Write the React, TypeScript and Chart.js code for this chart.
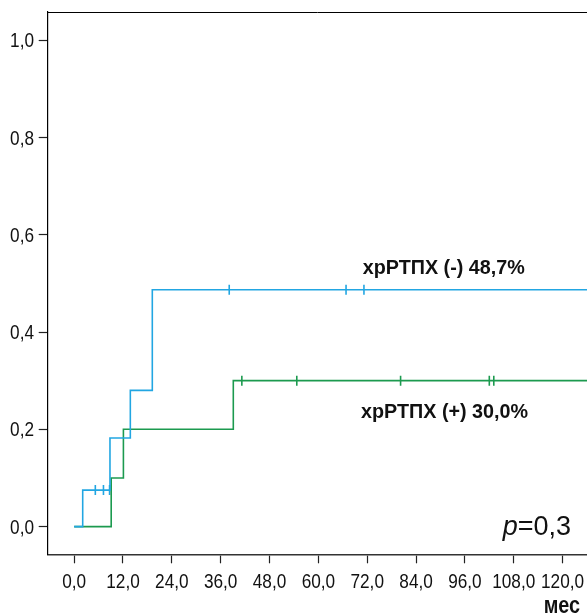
import React, { useEffect, useRef } from "react";
import { Chart, registerables } from "chart.js";

Chart.register(...registerables);

// Cumulative incidence steps (months, fraction)
const blueTimes = [0, 2.1, 8.8, 13.8, 19.2, 130];
const blueValues = [0, 0.075, 0.182, 0.28, 0.487, 0.487];
const blueCensorTimes = [5.2, 7.2, 8.7, 38.1, 66.8, 71.2];
const blueCensorValues = [0.075, 0.075, 0.075, 0.487, 0.487, 0.487];

const greenTimes = [0, 9.1, 12.1, 39.1, 130];
const greenValues = [0, 0.1, 0.2, 0.3, 0.3];
const greenCensorTimes = [41.2, 54.7, 80.2, 102.0, 103.1];
const greenCensorValues = [0.3, 0.3, 0.3, 0.3, 0.3];

const xTicks = [0, 12, 24, 36, 48, 60, 72, 84, 96, 108, 120];
const yTicks = [0, 0.2, 0.4, 0.6, 0.8, 1.0];

const blueLabel = "хрРТПХ (-) 48,7%";
const greenLabel = "хрРТПХ (+) 30,0%";
const pLabelItalic = "p";
const pLabelRest = "=0,3";
const xUnit = "мес";

const BLUE = "#22a6e2";
const GREEN = "#1c9a4f";
const SANS = "'Liberation Sans', Arial, sans-serif";
const TICK_SIZE = 20;
const TICK_SCALE = 0.86;

const fmt = (v: number) => v.toFixed(1).replace(".", ",");

function drawScaledText(ctx: any, text: string, cx: number, cy: number, font: string, sx: number, align: string, baseline = "middle") {
  ctx.save();
  ctx.font = font;
  ctx.translate(cx, cy);
  ctx.scale(sx, 1);
  ctx.textAlign = align;
  ctx.textBaseline = baseline;
  ctx.fillText(text, 0, 0);
  ctx.restore();
}

const annotations = {
  id: "annotations",
  afterDraw(chart: any) {
    const { ctx, chartArea, scales } = chart;
    const x = scales.x;
    const y = scales.y;
    ctx.save();
    // top frame
    ctx.strokeStyle = "#000";
    ctx.lineWidth = 1;
    ctx.beginPath();
    ctx.moveTo(chartArea.left, chartArea.top + 0.5);
    ctx.lineTo(chartArea.right, chartArea.top + 0.5);
    ctx.stroke();

    ctx.fillStyle = "#111";
    // tick labels (condensed look)
    const tickFont = `${TICK_SIZE}px ${SANS}`;
    x.ticks.forEach((t: any, i: number) => {
      drawScaledText(ctx, fmt(t.value), x.getPixelForTick(i), 588, tickFont, TICK_SCALE, "center", "alphabetic");
    });
    const cap = TICK_SIZE * 0.716;
    y.ticks.forEach((t: any, i: number) => {
      drawScaledText(ctx, fmt(t.value), 34, y.getPixelForTick(i) + cap / 2, tickFont, TICK_SCALE, "right", "alphabetic");
    });

    drawScaledText(ctx, blueLabel, x.getPixelForValue(90.8), y.getPixelForValue(0.532), `bold 21px ${SANS}`, 0.94, "center");
    drawScaledText(ctx, greenLabel, x.getPixelForValue(91.0), y.getPixelForValue(0.236), `bold 21px ${SANS}`, 0.94, "center");

    // p = 0,3
    ctx.textAlign = "left";
    ctx.textBaseline = "alphabetic";
    const px = x.getPixelForValue(105.3);
    const py = y.getPixelForValue(-0.018);
    ctx.font = `italic 27px ${SANS}`;
    ctx.fillText(pLabelItalic, px, py);
    const w = ctx.measureText(pLabelItalic).width;
    ctx.font = `27px ${SANS}`;
    ctx.fillText(pLabelRest, px + w, py);

    // unit
    drawScaledText(ctx, xUnit, chart.width - 7, 613, `bold 23px ${SANS}`, 0.86, "right", "alphabetic");
    ctx.restore();
  },
};

export default function App() {
  const ref = useRef<HTMLCanvasElement>(null);
  useEffect(() => {
    document.body.style.margin = "0";
    const canvas = ref.current!;
    const toPts = (t: number[], v: number[]) => t.map((tt, i) => ({ x: tt, y: v[i] }));
    const chart = new Chart(canvas, {
      type: "line",
      data: {
        datasets: [
          {
            data: toPts(blueTimes, blueValues),
            borderColor: BLUE,
            borderWidth: 1.6,
            stepped: "before",
            pointRadius: 0,
            fill: false,
          },
          {
            data: toPts(greenTimes, greenValues),
            borderColor: GREEN,
            borderWidth: 1.6,
            stepped: "before",
            pointRadius: 0,
            fill: false,
          },
          {
            type: "scatter",
            data: toPts(blueCensorTimes, blueCensorValues),
            borderColor: BLUE,
            backgroundColor: BLUE,
            pointStyle: "line",
            rotation: 90,
            pointRadius: 5,
            borderWidth: 1.6,
            showLine: false,
          } as any,
          {
            type: "scatter",
            data: toPts(greenCensorTimes, greenCensorValues),
            borderColor: GREEN,
            backgroundColor: GREEN,
            pointStyle: "line",
            rotation: 90,
            pointRadius: 5,
            borderWidth: 1.6,
            showLine: false,
          } as any,
        ],
      },
      options: {
        animation: false,
        responsive: false,
        layout: { autoPadding: false, padding: { top: 12, left: 0, right: 0, bottom: 0 } },
        plugins: { legend: { display: false }, tooltip: { enabled: false } },
        scales: {
          x: {
            type: "linear",
            min: -6.5,
            max: 126,
            afterBuildTicks: (s: any) => {
              s.ticks = xTicks.map((v) => ({ value: v }));
            },
            afterFit: (s: any) => {
              s.height = 61.7;
              s.paddingLeft = 0;
              s.paddingRight = 0;
            },
            grid: {
              drawOnChartArea: false,
              drawTicks: true,
              tickLength: 9,
              tickColor: "#222",
              tickWidth: 1.2,
            },
            border: { display: true, color: "#333", width: 1.6 },
            ticks: { display: false, autoSkip: false, maxRotation: 0 },
          },
          y: {
            type: "linear",
            min: -0.057,
            max: 1.058,
            afterBuildTicks: (s: any) => {
              s.ticks = yTicks.map((v) => ({ value: v }));
            },
            afterFit: (s: any) => {
              s.width = 47.7;
              s.paddingTop = 0;
              s.paddingBottom = 0;
            },
            grid: {
              drawOnChartArea: false,
              drawTicks: true,
              tickLength: 9,
              tickColor: "#222",
              tickWidth: 1.2,
            },
            border: { display: true, color: "#000", width: 1.2 },
            ticks: { display: false },
          },
        },
      },
      plugins: [annotations],
    } as any);
    return () => chart.destroy();
  }, []);
  return <canvas ref={ref} width={587} height={616} style={{ display: "block" }} />;
}
